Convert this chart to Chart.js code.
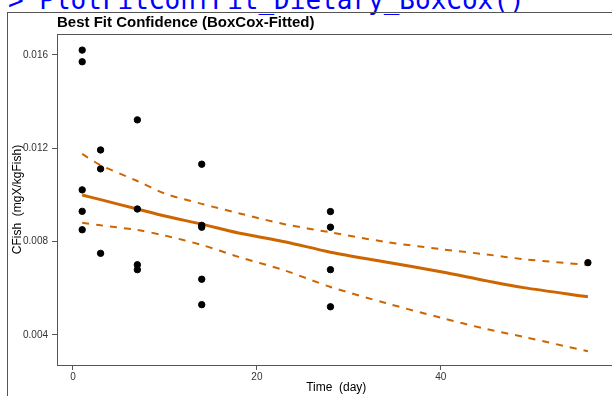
<!DOCTYPE html>
<html>
<head>
<meta charset="utf-8">
<script src="https://cdn.jsdelivr.net/npm/chart.js@4/dist/chart.umd.min.js"></script>
<style>
    html, body { margin: 0; padding: 0; background: #fff; }
    body { width: 612px; height: 396px; overflow: hidden; position: relative; }
    #cmd { position: absolute; left: 8px; top: -13px; font: 26px/26px 'DejaVu Sans Mono', monospace; color: #0000ff; white-space: pre; }
    #pane { position: absolute; left: 7px; top: 12px; width: 700px; height: 400px; border-left: 1px solid #555; border-top: 1px solid #555; }
    #chart { position: absolute; left: 0; top: 0; }
</style>
</head>
<body>
<div id="cmd">&gt; PlotFitConfFit_Dietary_BoxCox()</div>
<div id="pane"></div>
<canvas id="chart" width="630" height="396"></canvas>
<script>
// observed concentrations
const obsDays = [1, 1, 1, 1, 1, 3, 3, 3, 7, 7, 7, 7, 14, 14, 14, 14, 14, 28, 28, 28, 28, 56];
const obsConc = [0.01621, 0.01571, 0.01022, 0.0093, 0.00851,
    0.01193, 0.01112, 0.0075,
    0.01322, 0.0094, 0.00701, 0.0068,
    0.01132, 0.0087, 0.00862, 0.00639, 0.0053,
    0.00929, 0.00862, 0.0068, 0.00521,
    0.0071];

// fitted curve and confidence band
const fitDays = [1, 3, 7, 10, 14, 18, 23, 28, 34, 40, 45, 49, 56];
const fitMid = [0.0100, 0.0098, 0.0094, 0.0091, 0.00875, 0.00837, 0.0080, 0.00755, 0.00713, 0.00671, 0.00632, 0.00603, 0.00564];
const fitUpper = [0.01176, 0.01128, 0.0106, 0.01006, 0.00962, 0.00922, 0.00875, 0.0084, 0.00799, 0.00768, 0.00745, 0.00725, 0.0070];
const fitLower = [0.00881, 0.0087, 0.0085, 0.00826, 0.00786, 0.00735, 0.00677, 0.00606, 0.00537, 0.00474, 0.00425, 0.00392, 0.0033];

const xTicks = [0, 20, 40];
const yTicks = [0.004, 0.008, 0.012, 0.016];

const orange = '#CD6600';

function toXY(xs, ys) {
    return xs.map((x, i) => ({ x: x, y: ys[i] }));
}

const framePlugin = {
    id: 'frame',
    afterDraw(chart) {
        const { ctx, chartArea: a } = chart;
        ctx.save();
        ctx.strokeStyle = '#555';
        ctx.lineWidth = 1;
        ctx.strokeRect(Math.round(a.left) + 0.5, Math.round(a.top) + 0.5, a.right - a.left + 20, Math.round(a.bottom) - Math.round(a.top));
        ctx.restore();
    }
};

Chart.defaults.font.family = "'Liberation Sans', Arial, sans-serif";
Chart.defaults.color = '#222';

const ctx = document.getElementById('chart').getContext('2d');
new Chart(ctx, {
    type: 'scatter',
    data: {
        datasets: [
            {
                label: 'Observed',
                data: toXY(obsDays, obsConc),
                backgroundColor: '#000',
                borderColor: '#000',
                pointRadius: 3.2,
                showLine: false
            },
            {
                label: 'Fit',
                data: toXY(fitDays, fitMid),
                showLine: true,
                borderColor: orange,
                borderWidth: 3,
                pointRadius: 0,
                tension: 0.3
            },
            {
                label: 'Upper',
                data: toXY(fitDays, fitUpper),
                showLine: true,
                borderColor: orange,
                borderWidth: 2,
                borderDash: [7, 7],
                pointRadius: 0,
                tension: 0.3
            },
            {
                label: 'Lower',
                data: toXY(fitDays, fitLower),
                showLine: true,
                borderColor: orange,
                borderWidth: 2,
                borderDash: [7, 7],
                pointRadius: 0,
                tension: 0.3
            }
        ]
    },
    options: {
        responsive: false,
        animation: false,
        layout: { padding: { left: 0, right: 14.5, top: 0, bottom: 0 } },
        plugins: {
            legend: { display: false },
            tooltip: { enabled: false },
            title: {
                display: true,
                text: 'Best Fit Confidence (BoxCox-Fitted)',
                align: 'start',
                fullSize: false,
                color: '#000',
                font: { size: 15, weight: 'bold' },
                padding: { top: 14, bottom: 2 }
            }
        },
        scales: {
            x: {
                type: 'linear',
                min: -1.74,
                max: 59,
                afterFit: s => { s.height = 31; },
                afterBuildTicks: s => { s.ticks = xTicks.map(v => ({ value: v })); },
                border: { display: false },
                grid: { drawOnChartArea: false, tickLength: 5, color: '#555' },
                ticks: { font: { size: 10 }, color: '#333', padding: 1, maxRotation: 0, autoSkip: false },
                title: { display: true, text: 'Time  (day)', color: '#000', font: { size: 12 }, padding: { top: 0, bottom: 0.8 } }
            },
            y: {
                type: 'linear',
                min: 0.002714,
                max: 0.0169,
                afterFit: s => { s.width = 57; },
                afterBuildTicks: s => { s.ticks = yTicks.map(v => ({ value: v })); },
                border: { display: false },
                grid: { drawOnChartArea: false, tickLength: 5, color: '#555' },
                ticks: { font: { size: 10 }, color: '#333', padding: 4, autoSkip: false, callback: v => v.toFixed(3) },
                title: { display: true, text: 'CFish  (mgX/kgFish)', color: '#000', font: { size: 12 }, padding: { top: 10.5, bottom: 0 } }
            }
        }
    },
    plugins: [framePlugin]
});
</script>
</body>
</html>
